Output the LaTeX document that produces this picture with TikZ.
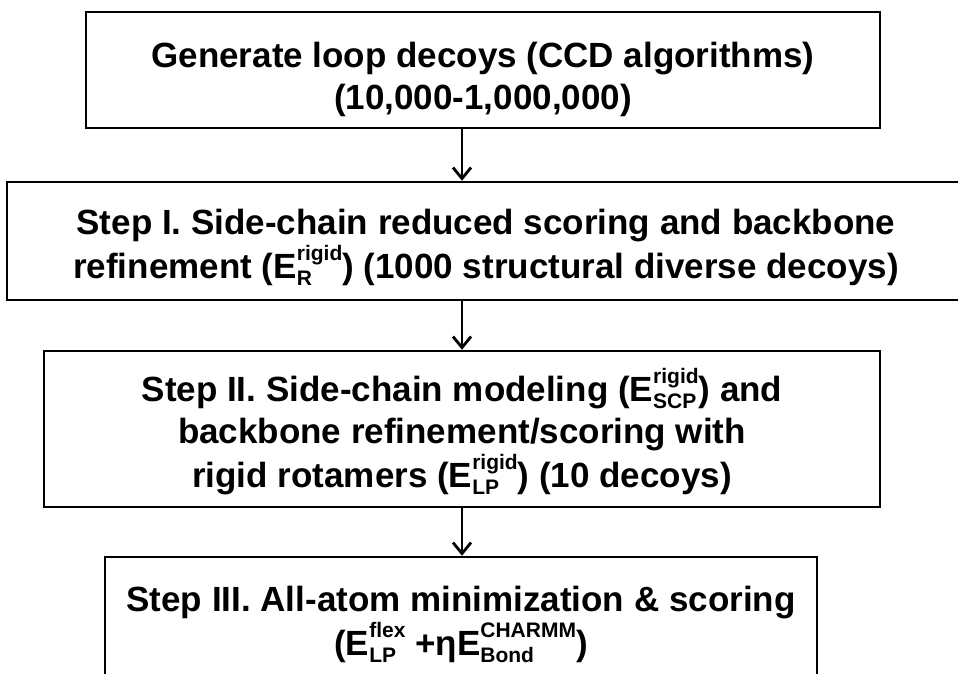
\documentclass[tikz,border=0pt]{standalone}
\usepackage{fontspec}
\setmainfont{Liberation Sans}
\usetikzlibrary{arrows.meta}
\newcommand{\termfont}{\fontsize{21}{25}\selectfont\bfseries}
\newcommand{\energy}[2]{E\raisebox{-7pt}{\termfont\begin{tabular}[b]{@{}l@{}}#1\\#2\end{tabular}}}
\newcommand{\topgap}{\rule{0pt}{45pt}}
\begin{document}
\begin{tikzpicture}[x=1pt,y=-1pt,
		stepbox/.style={draw,line width=2.5pt,inner sep=0pt,align=center,
			font=\fontsize{35}{42}\selectfont\bfseries},
		flow/.style={line width=2.8pt,-{Straight Barb[length=11pt,width=18pt,line width=2.8pt]}}]
	\clip (0,0) rectangle (958,673);
	% boxes, top to bottom
	\node[stepbox,minimum width=794pt,minimum height=116pt] (gen) at (483,70)
		{\topgap Generate loop decoys (CCD algorithms)\\(10,000-1,000,000)};
	\node[stepbox,minimum width=958pt,minimum height=118pt] (stepone) at (486,241)
		{\topgap Step I. Side-chain reduced scoring and backbone\\refinement (\energy{rigid}{R}) (1000 structural diverse decoys)};
	\node[stepbox,minimum width=836pt,minimum height=156pt] (steptwo) at (462,429)
		{\topgap Step II. Side-chain modeling (\energy{rigid}{SCP}) and\\backbone refinement/scoring with\\rigid rotamers (\energy{rigid}{LP}) (10 decoys)};
	\node[stepbox,minimum width=712pt,minimum height=122pt] (stepthree) at (461,618)
		{\topgap Step III. All-atom minimization \& scoring\\(\energy{flex}{LP} +η\energy{CHARMM}{Bond})};
	% arrows
	\draw[flow] (gen.south -| steptwo.north) -- (stepone.north -| steptwo.north);
	\draw[flow] (stepone.south -| steptwo.north) -- (steptwo.north);
	\draw[flow] (steptwo.south) -- (stepthree.north -| steptwo.south);
\end{tikzpicture}
\end{document}
